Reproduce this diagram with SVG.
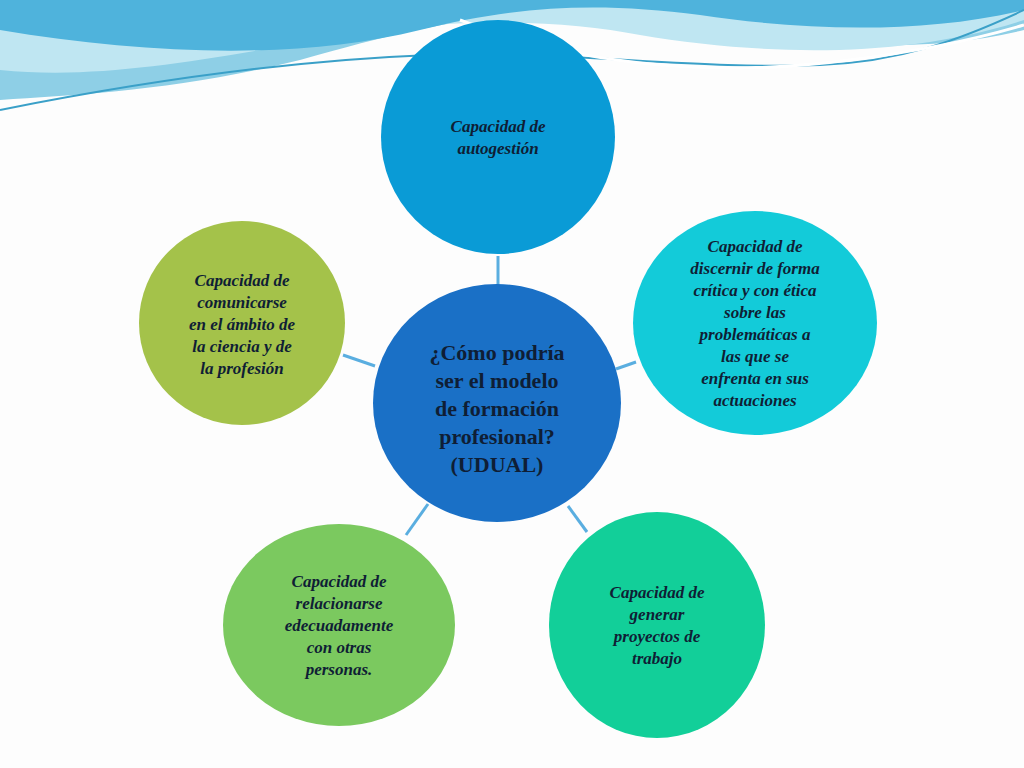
<svg xmlns="http://www.w3.org/2000/svg" width="1024" height="768" viewBox="0 0 1024 768">
<style>
.t{font-family:"Liberation Serif",serif;font-weight:bold;font-style:italic;font-size:17px;fill:#0f1e35;text-anchor:middle}
.c{font-family:"Liberation Serif",serif;font-weight:bold;font-size:22px;fill:#0f1e35;text-anchor:middle}
.ln{stroke:#5aaee0;stroke-width:3}
</style>
<rect width="1024" height="768" fill="#fdfdfd"/>
<g id="waves">
<path d="M0 0H1024V30C900 60 760 40 620 20C520 5 440 20 300 60C180 90 80 95 0 100Z" fill="#8ecfe6"/>
<path d="M0 70C100 80 200 60 320 40C450 15 560 20 640 35C760 55 900 60 1024 20V0H0Z" fill="#bfe6f2"/>
<path d="M0 0H1024V10C920 35 800 30 700 15C600 2 520 5 420 30C300 60 150 55 0 30Z" fill="#4fb3dc"/>
<path d="M0 110C150 80 300 60 430 55C560 50 700 70 820 65C900 62 960 40 1024 10" fill="none" stroke="#3aa0c8" stroke-width="2"/>
<path d="M460 20C560 60 700 80 850 60C930 50 990 35 1024 25" fill="none" stroke="#fff" stroke-width="3"/>
</g>
<g id="connectors">
<line class="ln" x1="498" y1="256" x2="498" y2="285"/>
<line class="ln" x1="616" y1="369" x2="636" y2="362"/>
<line class="ln" x1="568" y1="506" x2="587" y2="532"/>
<line class="ln" x1="428" y1="504" x2="406" y2="535"/>
<line class="ln" x1="343" y1="355" x2="375" y2="366"/>
</g>
<g id="top"><ellipse cx="498" cy="137" rx="117" ry="117" fill="#0a9bd6"/>
<text class="t" x="498" y="132">Capacidad de</text><text class="t" x="498" y="154">autogestión</text></g>
<g id="right"><ellipse cx="755" cy="323" rx="122" ry="112" fill="#13cbd9"/>
<text class="t" x="755" y="252">Capacidad de</text><text class="t" x="755" y="274">discernir de forma</text><text class="t" x="755" y="296">crítica y con ética</text><text class="t" x="755" y="318">sobre las</text><text class="t" x="755" y="340">problemáticas a</text><text class="t" x="755" y="362">las que se</text><text class="t" x="755" y="384">enfrenta en sus</text><text class="t" x="755" y="406">actuaciones</text></g>
<g id="bottomright"><ellipse cx="657" cy="625" rx="108" ry="113" fill="#12cf99"/>
<text class="t" x="657" y="598">Capacidad de</text><text class="t" x="657" y="620">generar</text><text class="t" x="657" y="642">proyectos de</text><text class="t" x="657" y="664">trabajo</text></g>
<g id="bottomleft"><ellipse cx="339" cy="625" rx="116" ry="101" fill="#7bc95f"/>
<text class="t" x="339" y="587">Capacidad de</text><text class="t" x="339" y="609">relacionarse</text><text class="t" x="339" y="631">edecuadamente</text><text class="t" x="339" y="653">con otras</text><text class="t" x="339" y="675">personas.</text></g>
<g id="left"><ellipse cx="242" cy="323" rx="103" ry="102" fill="#a4c24a"/>
<text class="t" x="242" y="286">Capacidad de</text><text class="t" x="242" y="308">comunicarse</text><text class="t" x="242" y="330">en el ámbito de</text><text class="t" x="242" y="352">la ciencia y de</text><text class="t" x="242" y="374">la profesión</text></g>
<g id="center"><ellipse cx="497" cy="403" rx="124" ry="119" fill="#1a70c6"/>
<text class="c" x="497" y="360">¿Cómo podría</text><text class="c" x="497" y="388">ser el modelo</text><text class="c" x="497" y="416">de formación</text><text class="c" x="497" y="444">profesional?</text><text class="c" x="497" y="472">(UDUAL)</text></g>
</svg>
